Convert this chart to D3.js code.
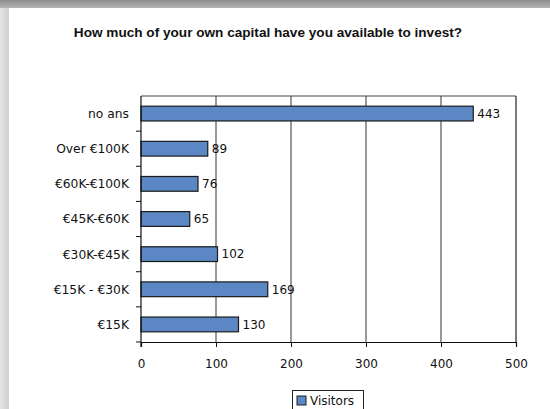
<!DOCTYPE html>
<html>
<head>
<meta charset="utf-8">
<script src="https://cdn.jsdelivr.net/npm/d3@7"></script>
<style>
  body { margin: 0; background: #fff; }
  .tick text { font-family: "DejaVu Sans", Verdana, sans-serif; font-size: 12px; fill: #111; }
</style>
</head>
<body>
<svg id="chart" width="550" height="409"></svg>
<script>
// data
const categories = ["no ans", "Over €100K", "€60K-€100K", "€45K-€60K", "€30K-€45K", "€15K - €30K", "€15K"]
const visitors = [443, 89, 76, 65, 102, 169, 130]
const xTicks = [0, 100, 200, 300, 400, 500]
const title = "How much of your own capital have you available to invest?"
const seriesName = "Visitors"

const svg = d3.select("#chart")
const plotLeft = 141, plotRight = 516, plotTop = 96, plotBottom = 342
const barColor = "#5b87c4"
const labelFont = "'DejaVu Sans', Verdana, sans-serif"

// frame shadows
const defs = svg.append("defs")
const gTop = defs.append("linearGradient").attr("id", "shTop").attr("x1", 0).attr("y1", 0).attr("x2", 0).attr("y2", 1)
gTop.append("stop").attr("offset", "0%").attr("stop-color", "#8c8c8c")
gTop.append("stop").attr("offset", "100%").attr("stop-color", "#b4b4b4")
const gLeft = defs.append("linearGradient").attr("id", "shLeft").attr("x1", 0).attr("y1", 0).attr("x2", 1).attr("y2", 0)
gLeft.append("stop").attr("offset", "0%").attr("stop-color", "#e6e6e6")
gLeft.append("stop").attr("offset", "100%").attr("stop-color", "#cfcfcf")
svg.append("rect").attr("x", 0).attr("y", 0).attr("width", 9).attr("height", 409).attr("fill", "url(#shLeft)")
svg.append("rect").attr("x", 0).attr("y", 0).attr("width", 550).attr("height", 8).attr("fill", "url(#shTop)")

// title
svg.append("text")
    .attr("x", 268).attr("y", 37)
    .attr("text-anchor", "middle")
    .style("font-family", "'Liberation Sans', Arial, sans-serif")
    .style("font-weight", "bold").style("font-size", "13.6px").style("fill", "#111")
    .text(title)

let xScale = d3.scaleLinear().domain([0, 500]).range([plotLeft, plotRight])
let yScale = d3.scaleBand().domain(categories).range([plotTop, plotBottom]).paddingInner(0.58).paddingOuter(0.29)

// gridlines
svg.append("g").selectAll("line").data(xTicks.slice(1))
    .enter().append("line")
    .attr("x1", d => xScale(d)).attr("x2", d => xScale(d))
    .attr("y1", plotTop).attr("y2", plotBottom)
    .attr("stroke", d => d === 500 ? "#222" : "#555").attr("stroke-width", 1.2)
svg.append("line").attr("x1", plotLeft).attr("x2", plotRight).attr("y1", plotTop).attr("y2", plotTop)
    .attr("stroke", "#444").attr("stroke-width", 1)

// bars
svg.append("g").selectAll("rect").data(visitors)
    .enter().append("rect")
    .attr("x", xScale(0))
    .attr("y", (d, i) => yScale(categories[i]))
    .attr("width", d => xScale(d) - xScale(0))
    .attr("height", yScale.bandwidth())
    .attr("fill", barColor).attr("stroke", "#1a1a1a").attr("stroke-width", 1.2)

// value labels
svg.append("g").selectAll("text").data(visitors)
    .enter().append("text")
    .attr("x", d => xScale(d) + 4)
    .attr("y", (d, i) => yScale(categories[i]) + yScale.bandwidth() / 2)
    .attr("dy", "0.36em")
    .style("font-family", labelFont).style("font-size", "12px").style("fill", "#111")
    .text(d => d)

// y axis: ticks between categories
const yAxis = svg.append("g")
yAxis.append("line").attr("x1", plotLeft).attr("x2", plotLeft).attr("y1", plotTop).attr("y2", plotBottom + 5)
    .attr("stroke", "#111").attr("stroke-width", 1.2)
yAxis.selectAll(".ytick").data(d3.range(1, categories.length + 1))
    .enter().append("line")
    .attr("x1", plotLeft - 5).attr("x2", plotLeft)
    .attr("y1", i => plotTop + i * (plotBottom - plotTop) / categories.length)
    .attr("y2", i => plotTop + i * (plotBottom - plotTop) / categories.length)
    .attr("stroke", "#111")
yAxis.selectAll(".ylab").data(categories)
    .enter().append("text")
    .attr("x", plotLeft - 12)
    .attr("y", d => yScale(d) + yScale.bandwidth() / 2)
    .attr("dy", "0.36em").attr("text-anchor", "end")
    .style("font-family", labelFont).style("font-size", "12.3px").style("fill", "#111")
    .text(d => d)

// x axis
let x_axis = d3.axisBottom(xScale).tickValues(xTicks).tickSize(5).tickPadding(12)
svg.append("g").attr("transform", `translate(0,${plotBottom})`).call(x_axis)
    .call(g => g.select(".domain").attr("stroke", "#111").attr("stroke-width", 1.2))
    .call(g => g.selectAll(".tick line").attr("stroke", "#111"))

// legend
const lg = svg.append("g").attr("transform", "translate(292,390)")
lg.append("rect").attr("x", 0.5).attr("y", 0.5).attr("width", 71).attr("height", 24)
    .attr("fill", "#fff").attr("stroke", "#222")
lg.append("rect").attr("x", 5).attr("y", 6).attr("width", 9).attr("height", 9)
    .attr("fill", barColor).attr("stroke", "#222")
lg.append("text").attr("x", 18).attr("y", 15)
    .style("font-family", labelFont).style("font-size", "12px").style("fill", "#111")
    .text(seriesName)
</script>
</body>
</html>
